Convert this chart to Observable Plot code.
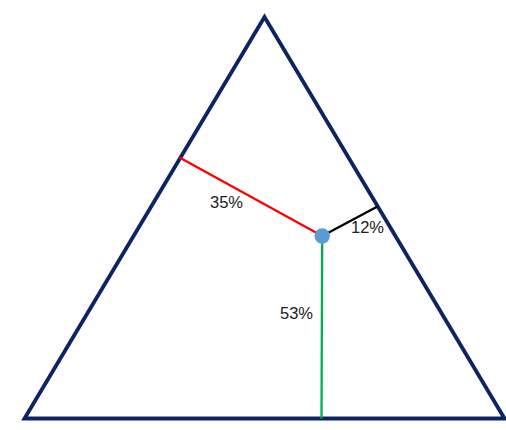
<!DOCTYPE html>
<html>
<head>
<meta charset="utf-8">
<script src="https://cdn.jsdelivr.net/npm/d3@7"></script>
<script src="https://cdn.jsdelivr.net/npm/@observablehq/plot@0.6"></script>
<style>
  html, body { margin: 0; padding: 0; background: #fff; }
  svg { display: block; }
</style>
</head>
<body>
<div id="chart"></div>
<script>
// Triangle corners (diagram units: x to the right, y upward)
const cornerX = [24, 264, 504];
const cornerY = [12, 413.5, 12];

// The composition point
const pointX = 321.7;
const pointY = 194.5;

// Perpendicular feet on each side and their shares
const sides = ["left", "right", "bottom"];
const shares = ["35%", "12%", "53%"];
const footX = [179, 377, 321];
const footY = [273, 224, 12];
const labelX = [226, 367, 296];
const labelY = [228, 203, 117];

const triangle = cornerX.map((x, i) => ({x, y: cornerY[i]}));
const segments = sides.map((s, i) => ({side: s, x1: pointX, y1: pointY, x2: footX[i], y2: footY[i]}));
const labels = sides.map((s, i) => ({side: s, text: shares[i], x: labelX[i], y: labelY[i]}));

const chart = Plot.plot({
  width: 506,
  height: 430,
  margin: 0,
  x: {domain: [0, 506], range: [0, 506], axis: null},
  y: {domain: [0, 430], range: [430, 0], axis: null},
  color: {domain: sides, range: ["#ff0000", "#000000", "#00b050"]},
  style: {background: "#fff"},
  marks: [
    Plot.line(triangle, {x: "x", y: "y", curve: "linear-closed", stroke: "#0c2462", strokeWidth: 3.8, strokeLinejoin: "miter", strokeMiterlimit: 10}),
    Plot.link(segments, {x1: "x1", y1: "y1", x2: "x2", y2: "y2", stroke: "side", strokeWidth: 2.3}),
    Plot.dot([{x: pointX, y: pointY}], {x: "x", y: "y", r: 7.7, fill: "#5b9bd5", stroke: "none"}),
    Plot.text(labels, {x: "x", y: "y", text: "text", fontSize: 16.5, fontFamily: "Liberation Sans", fill: "#222", textAnchor: "middle"})
  ]
});
document.getElementById("chart").appendChild(chart);
</script>
</body>
</html>
